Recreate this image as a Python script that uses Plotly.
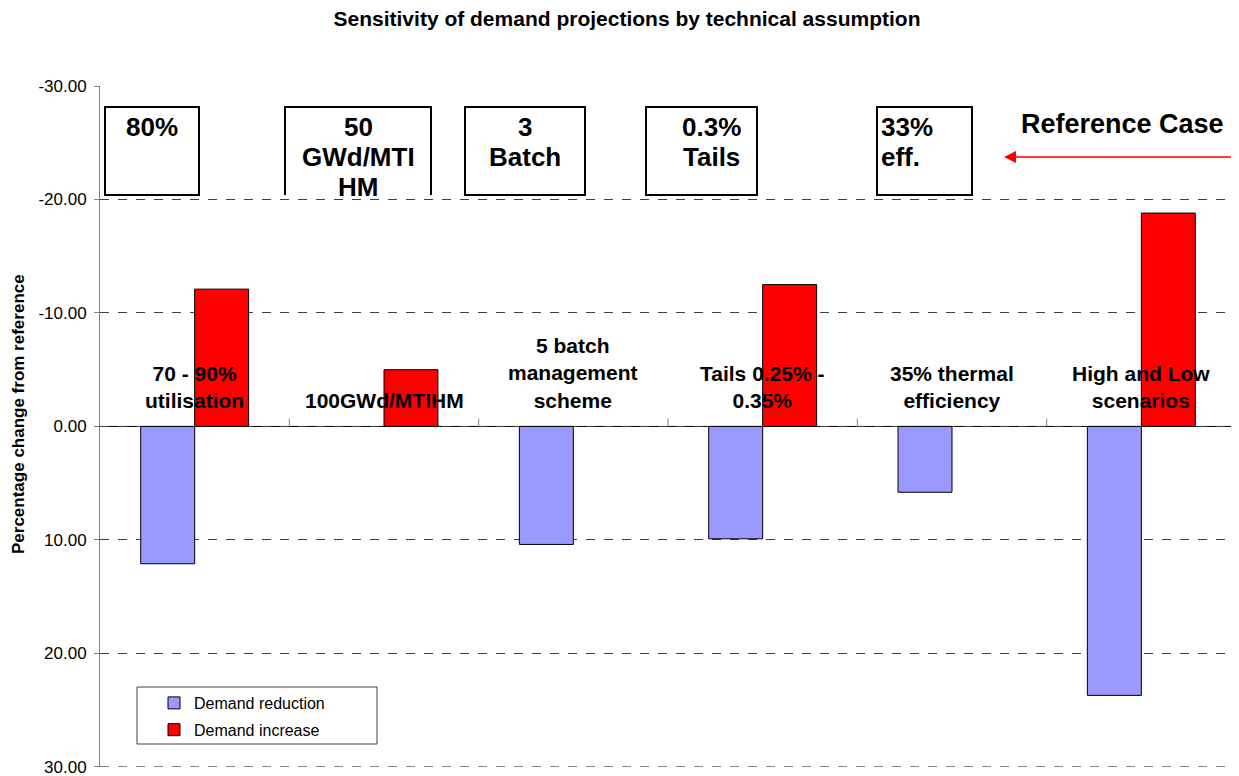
import plotly.graph_objects as go

categories = ["70 - 90%<br>utilisation", "100GWd/MTIHM", "5 batch<br>management<br>scheme",
              "Tails 0.25% -<br>0.35%", "35% thermal<br>efficiency", "High and Low<br>scenarios"]
demand_reduction = [12.1, None, 10.4, 9.9, 5.8, 23.7]
demand_increase = [-12.1, -5.0, None, -12.5, None, -18.8]
y_ticks = [-30, -20, -10, 0, 10, 20, 30]
y_tick_labels = ["-30.00", "-20.00", "-10.00", "0.00", "10.00", "20.00", "30.00"]
ref_labels = [["80%"], ["50", "GWd/MTI", "HM"], ["3", "Batch"], ["0.3%", "Tails"], ["33%", "eff."]]

FONT = "Arial, Liberation Sans, sans-serif"
OFF = 8  # browser body margin
W, H = 1239 - OFF, 776 - OFF
L, R, T, B = 100 - OFF, 1236 - OFF, 86 - OFF, 768 - OFF - 1

# helpers take coordinates measured on the reference picture
def px2y(p):
    return -30 + (p - OFF - T) / (B - T) * 60

def px2x(p):
    return (p - OFF - L) / (R - L)

def py2paper(p):
    return (B - (p - OFF)) / (B - T)

x = list(range(len(categories)))

fig = go.Figure()
fig.add_trace(go.Bar(x=x, y=demand_reduction, name="Demand reduction", legendgroup="a",
                     marker=dict(color="#9999ff", line=dict(color="black", width=1))))
fig.add_trace(go.Bar(x=x, y=demand_increase, name="Demand increase", legendgroup="b",
                     marker=dict(color="#ff0000", line=dict(color="black", width=1))))

shapes = []
for i in range(len(categories) - 1):
    shapes.append(dict(type="line", xref="x", yref="y", x0=i + 0.5, x1=i + 0.5,
                       y0=0, y1=-0.7, line=dict(color="#808080", width=1)))
shapes.append(dict(type="line", xref="paper", yref="y", x0=0, x1=1, y0=0, y1=0,
                   line=dict(color="black", width=1), layer="below"))
shapes.append(dict(type="line", xref="paper", yref="y", x0=0, x1=1, y0=30, y1=30,
                   line=dict(color="#404040", width=1, dash="dash"), layer="below"))

boxes = [(105, 199, True), (285, 431, False), (465, 585, True), (646, 757, True), (877, 972, True)]
bt, bb = 107, 195
for x0, x1, closed in boxes:
    X0, X1, Y0, Y1 = px2x(x0), px2x(x1), px2y(bt), px2y(bb)
    if closed:
        shapes.append(dict(type="rect", xref="paper", yref="y",
                           x0=X0, x1=X1, y0=Y0, y1=Y1,
                           line=dict(color="black", width=2), fillcolor="white", layer="below"))
    else:
        shapes.append(dict(type="rect", xref="paper", yref="y",
                           x0=X0, x1=X1, y0=Y0, y1=Y1,
                           line=dict(width=0), fillcolor="white", layer="below"))
        shapes.append(dict(type="path", xref="paper", yref="y",
                           path=f"M {X0} {Y1} L {X0} {Y0} L {X1} {Y0} L {X1} {Y1}",
                           line=dict(color="black", width=2)))

shapes.append(dict(type="rect", xref="paper", yref="paper",
                   x0=px2x(137), x1=px2x(377), y0=py2paper(687), y1=py2paper(744),
                   line=dict(color="#404040", width=1), fillcolor="white", layer="below"))

annotations = []
for i, c in enumerate(categories):
    annotations.append(dict(x=i, y=-1.1, xref="x", yref="y", text=f"<b>{c}</b>",
                            showarrow=False, yanchor="bottom", xanchor="center",
                            font=dict(family=FONT, size=21, color="black")))

ref_pos = [(152, "center"), (358, "center"), (525, "center"), (711, "center"), (879, "left")]
for (px, anc), lines in zip(ref_pos, ref_labels):
    for k, t in enumerate(lines):
        annotations.append(dict(x=px2x(px), y=px2y(127 + 30 * k), xref="paper", yref="y",
                                text=f"<b>{t}</b>", showarrow=False, yanchor="middle",
                                xanchor=anc, font=dict(family=FONT, size=26, color="black")))

annotations.append(dict(x=px2x(1122), y=px2y(124), xref="paper", yref="y",
                        text="<b>Reference Case</b>", showarrow=False,
                        xanchor="center", yanchor="middle",
                        font=dict(family=FONT, size=27, color="black")))
annotations.append(dict(x=px2x(1004), y=px2y(157), xref="paper", yref="y",
                        ax=232, ay=0, text="", showarrow=True, arrowhead=2,
                        arrowsize=1.6, arrowwidth=1.5, arrowcolor="#ff0000"))
annotations.append(dict(x=px2x(18), y=py2paper(414), xref="paper", yref="paper",
                        text="<b>Percentage change from reference</b>", textangle=-90,
                        showarrow=False, xanchor="center", yanchor="middle",
                        font=dict(family=FONT, size=17, color="black")))

fig.update_layout(
    width=W, height=H,
    margin=dict(l=L, r=W - R, t=T, b=H - B, autoexpand=False),
    paper_bgcolor="white", plot_bgcolor="white",
    barmode="group", bargap=0.43, bargroupgap=0,
    title=dict(text="<b>Sensitivity of demand projections by technical assumption</b>",
               x=(627 - OFF) / W, xanchor="center", y=1 - (19 - OFF) / H, yanchor="middle",
               xref="container", yref="container",
               font=dict(family=FONT, size=21, color="black")),
    font=dict(family=FONT, color="black"),
    showlegend=True,
    legend=dict(x=px2x(154), y=py2paper(686), xanchor="left", yanchor="top",
                bgcolor="rgba(0,0,0,0)", borderwidth=0,
                font=dict(family=FONT, size=16, color="black"),
                traceorder="grouped", tracegroupgap=3, itemwidth=30),
    shapes=shapes, annotations=annotations,
)
fig.update_xaxes(range=[-0.5, len(categories) - 0.5], showticklabels=False, showgrid=False,
                 zeroline=False, showline=False, ticks="", automargin=False)
fig.update_yaxes(range=[30.01, -30], tickvals=y_ticks, ticktext=y_tick_labels,
                 showgrid=True, gridcolor="#404040", griddash="dash", gridwidth=1,
                 zeroline=False, showline=True, linecolor="#808080", linewidth=1,
                 ticks="outside", ticklen=5, tickcolor="#808080", automargin=False,
                 ticklabelstandoff=4, ticklabeloverflow="allow",
                 tickfont=dict(family=FONT, size=17, color="black"))

fig.write_html("out.html")
